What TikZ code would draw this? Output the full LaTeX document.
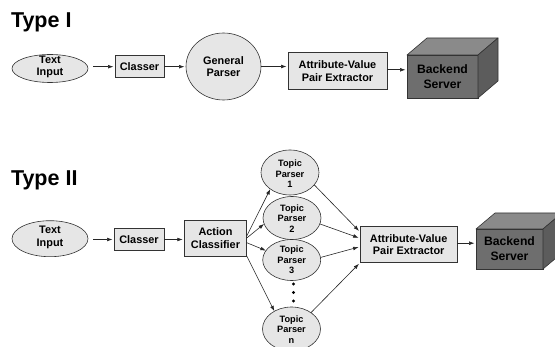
\documentclass[tikz,border=0pt]{standalone}
\usepackage{fontspec}
\setmainfont{Liberation Sans}
\usetikzlibrary{shapes.geometric,arrows.meta}
\definecolor{lightfill}{HTML}{E6E6E6}
\definecolor{edgec}{HTML}{333333}
\definecolor{frontc}{HTML}{6E6E6E}
\definecolor{topc}{HTML}{8A8A8A}
\definecolor{sidec}{HTML}{5C5C5C}
\begin{document}
\begin{tikzpicture}[x=1pt,y=-1pt,
  every node/.style={inner sep=0pt, outer sep=0pt},
  ell/.style={ellipse, draw=edgec, fill=lightfill, line width=0.6pt},
  box/.style={rectangle, draw=edgec, fill=lightfill, line width=0.6pt, align=center,
              font=\fontsize{10.9}{12.5}\selectfont\bfseries},
  txt/.style={align=center, font=\fontsize{10.9}{12.5}\selectfont\bfseries},
  smalltxt/.style={align=center, font=\fontsize{9.2}{10.5}\selectfont\bfseries},
  title/.style={anchor=base west, font=\fontsize{21.5}{25}\selectfont\bfseries},
  front/.style={rectangle, draw=edgec, fill=frontc, line width=0.6pt, align=center,
                font=\fontsize{12.2}{15}\selectfont\bfseries},
  topface/.style={draw=edgec, fill=topc, line width=0.6pt, line join=round},
  sideface/.style={draw=edgec, fill=sidec, line width=0.6pt, line join=round},
  arr/.style={-{Latex[length=5.5pt,width=3.8pt]}, line width=0.6pt, draw=black!85, shorten >=1.5pt},
  tpell/.style={ell, minimum width=58pt, minimum height=44pt},
  dotc/.style={fill=black}
]
\useasboundingbox (0,0) rectangle (555,347);

% ---------------- Type I ----------------
\node[title] (t1) at (11,28) {Type I};

\node[ell, minimum width=76pt, minimum height=28pt] (ti1) at (50,68.5) {};
\node[txt] (ti1t) at (50,67) {Text\\Input};

\node[box, minimum width=49pt, minimum height=22pt] (cl1) at (139.5,66.7) {Classer};

\node[ell, minimum width=75pt, minimum height=67pt] (gp) at (223.5,66.5) {};
\node[txt] (gpt) at (223.5,66.5) {General\\Parser};

\node[box, minimum width=99pt, minimum height=37pt] (av1) at (337.5,71.3) {Attribute-Value\\Pair Extractor};

\node[front, minimum width=71pt, minimum height=43pt] (be1) at (442.5,76.5) {Backend\\Server};
\path[topface] (be1.north west) -- ([shift={(20,-17)}]be1.north west)
  -- ([shift={(20,-17)}]be1.north east) -- (be1.north east) -- cycle;
\path[sideface] (be1.north east) -- ([shift={(20,-17)}]be1.north east)
  -- ([shift={(20,-17)}]be1.south east) -- (be1.south east) -- cycle;

\draw[arr, shorten <=5pt] (cl1.west -| ti1.east) -- (cl1.west);
\draw[arr] (cl1.east) -- (cl1.east -| gp.west);
\draw[arr] (gp.east) -- (gp.east -| av1.west);
\draw[arr] ([yshift=1.5pt]av1.east) -- ([yshift=1.5pt]av1.east -| be1.west);

% ---------------- Type II ----------------
\node[title] (t2) at (11,185.5) {Type II};

\node[ell, minimum width=76pt, minimum height=36pt] (ti2) at (50,238.7) {};
\node[txt] (ti2t) at (50,237.5) {Text\\Input};

\node[box, minimum width=50pt, minimum height=22.4pt] (cl2) at (139,239.5) {Classer};

\node[box, minimum width=62.5pt, minimum height=36pt] (ac) at (215.5,238) {Action\\Classifier};

\node[tpell, minimum height=45pt] (tp1) at (290,172.5) {};
\node[smalltxt] (tp1t) at (290,174) {Topic\\Parser\\1};
\node[tpell, minimum height=43pt] (tp2) at (292,218) {};
\node[smalltxt] (tp2t) at (292,218.5) {Topic\\Parser\\2};
\node[tpell, minimum height=41pt] (tp3) at (291.7,260) {};
\node[smalltxt] (tp3t) at (291.7,260) {Topic\\Parser\\3};
\node[tpell] (tpn) at (291.5,329) {};
\node[smalltxt] (tpnt) at (291.5,329.5) {Topic\\Parser\\n};

\fill[dotc] (293.5,284) circle (1.6);
\fill[dotc] (293.5,292.5) circle (1.6);
\fill[dotc] (293.5,301) circle (1.6);

\node[box, minimum width=97.3pt, minimum height=36pt] (av2) at (408.7,244.7) {Attribute-Value\\Pair Extractor};

\node[front, minimum width=67pt, minimum height=40pt] (be2) at (509.5,249) {Backend\\Server};
\path[topface] (be2.north west) -- ([shift={(19,-16)}]be2.north west)
  -- ([shift={(19,-16)}]be2.north east) -- (be2.north east) -- cycle;
\path[sideface] (be2.north east) -- ([shift={(19,-16)}]be2.north east)
  -- ([shift={(19,-16)}]be2.south east) -- (be2.south east) -- cycle;

\draw[arr, shorten <=5pt] (cl2.west -| ti2.east) -- (cl2.west);
\draw[arr] (cl2.east) -- (cl2.east -| ac.west);

\draw[arr, shorten >=0pt] ([yshift=2pt]ac.east) -- (tp1.220);
\draw[arr, shorten >=0pt] (ac.east) -- (tp2.192);
\draw[arr, shorten >=0pt] ([yshift=-4.7pt]ac.east) -- (tp3.160);
\draw[arr, shorten >=0pt] (ac.south east) -- (tpn.134);

\draw[arr] (tp1.333) -- ([yshift=12.7pt]av2.west);
\draw[arr] (tp2.348) -- ([yshift=6.4pt]av2.west);
\draw[arr] (tp3.5) -- ([yshift=-2pt]av2.west);
\draw[arr] (tpn.40) -- (av2.south west);

\draw[arr] ([yshift=1.5pt]av2.east) -- ([yshift=1.5pt]av2.east -| be2.west);
\end{tikzpicture}
\end{document}
